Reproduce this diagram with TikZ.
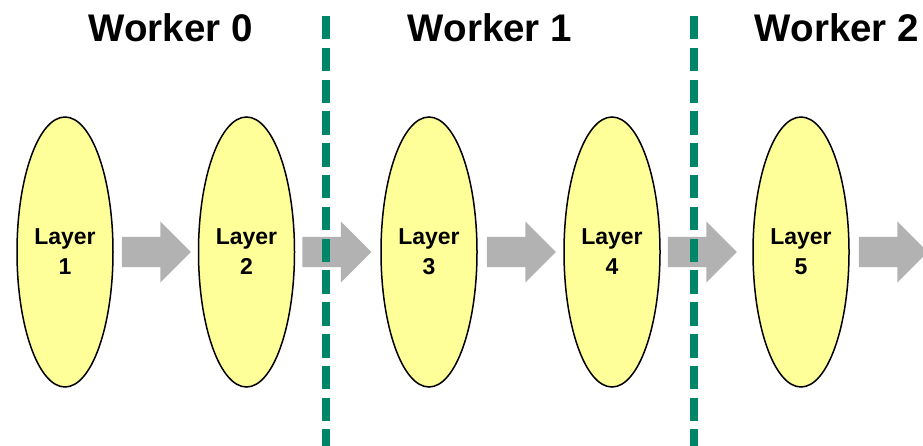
\documentclass[tikz,border=0pt]{standalone}
\usepackage{fontspec}
\setmainfont{Liberation Sans}
\usetikzlibrary{shapes.geometric,shapes.arrows,positioning}
\definecolor{layerfill}{RGB}{255,255,153}
\definecolor{cut}{RGB}{0,133,102}
\definecolor{pass}{RGB}{178,178,178}
\tikzset{
  layer/.style={ellipse, draw=black, line width=1.5pt, fill=layerfill,
              minimum width=96pt, minimum height=270pt, inner sep=0pt,
              align=center, font=\fontsize{23}{30}\selectfont\bfseries},
  fwd/.style={single arrow, fill=pass, draw=none, inner xsep=0pt, inner ysep=15pt,
              minimum height=69pt, single arrow head extend=15.5pt},
  split/.style={cut, line width=8pt, dash pattern=on 23.5pt off 8.3pt},
  wlabel/.style={font=\fontsize{38.5}{40}\selectfont\bfseries, anchor=base},
}
\begin{document}
\begin{tikzpicture}[x=1pt, y=-1pt]
  \useasboundingbox (0,0) rectangle (923,446);
  % one ellipse per layer
  \node[layer] (l1) at (65,252)    {Layer\\1};
  \node[layer] (l2) at (246.5,252) {Layer\\2};
  \node[layer] (l3) at (429,252)   {Layer\\3};
  \node[layer] (l4) at (612,252)   {Layer\\4};
  \node[layer] (l5) at (801,252)   {Layer\\5};
  % forward pass from layer to layer
  \node[fwd, right=8pt of l1] (f12) {};
  \node[fwd, right=7pt of l2] (f23) {};
  \node[fwd, right=9pt of l3] (f34) {};
  \node[fwd, right=7pt of l4] (f45) {};
  \node[fwd, right=9pt of l5] (f5x) {};
  % worker titles
  \node[wlabel] (w0) at (170.5,42) {Worker 0};
  \node[wlabel] (w1) at (490,42)   {Worker 1};
  \node[wlabel] (w2) at (837,42)   {Worker 2};
  % partition boundaries
  \coordinate (s1t) at (326,16);
  \coordinate (s1b) at (326,446);
  \coordinate (s2t) at (694,16);
  \coordinate (s2b) at (694,446);
  \draw[split] (s1t) -- (s1b);
  \draw[split] (s2t) -- (s2b);
\end{tikzpicture}
\end{document}
